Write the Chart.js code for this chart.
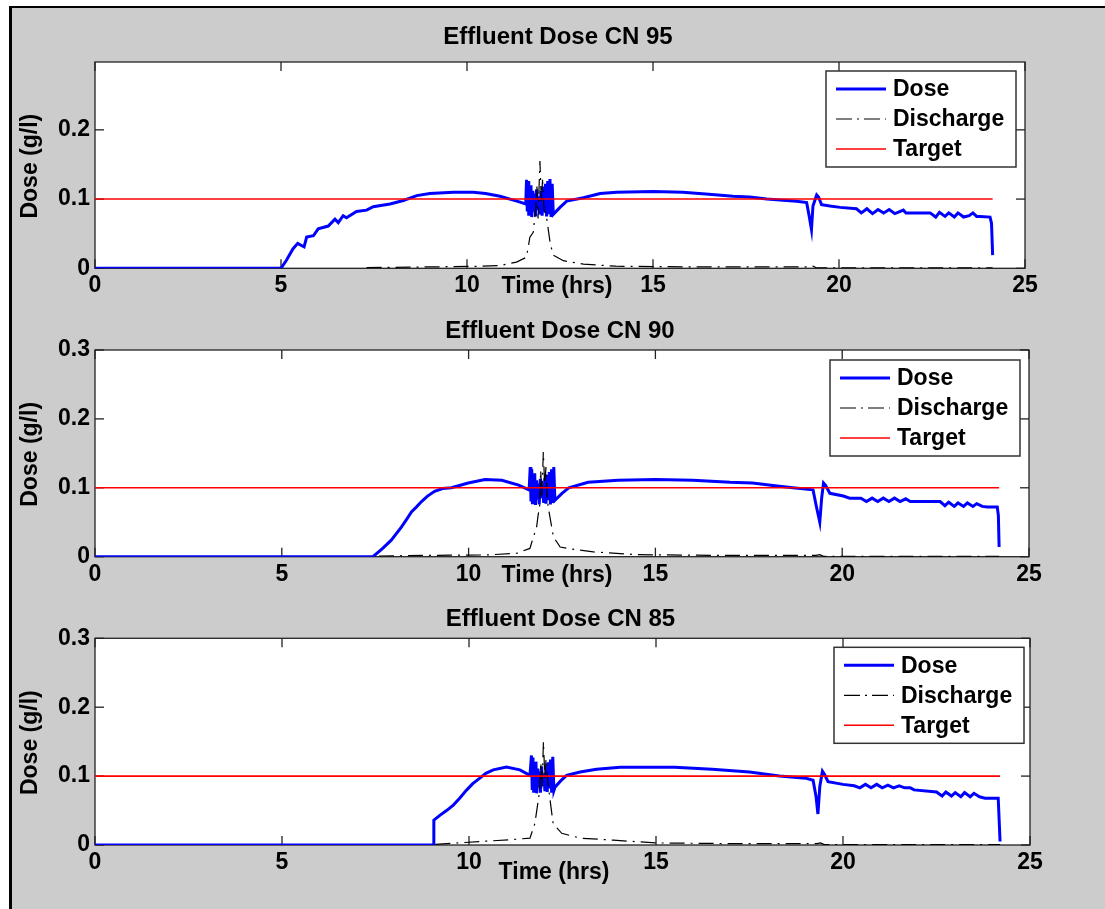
<!DOCTYPE html>
<html>
<head>
<meta charset="utf-8">
<title>Effluent Dose</title>
<script src="https://cdn.jsdelivr.net/npm/chart.js@4.4.0/dist/chart.umd.min.js"></script>
<style>
  body { margin: 0; background: #fff; width: 1105px; height: 909px; overflow: hidden; }
  #fig { position: absolute; left: 9px; top: 6px; width: 1096px; height: 903px; background: #cccccc;
         border-left: 3px solid #000; border-top: 2px solid #000; }
  canvas { position: absolute; left: 0; top: 0; }
</style>
</head>
<body>
<div id="fig"></div>
<canvas id="c95" width="1105" height="909"></canvas>
<canvas id="c90" width="1105" height="909"></canvas>
<canvas id="c85" width="1105" height="909"></canvas>
<script>
'use strict'

let xTicks = [0, 5, 10, 15, 20, 25];
let yTicksTop = [0, 0.1, 0.2];
let yTicks = [0, 0.1, 0.2, 0.3];
let legendLabels = ['Dose', 'Discharge', 'Target'];

// CN 95 : [time (hrs), dose (g/l)]
let dose95 = [
    [0, 0], [5.0, 0], [5.15, 0.012], [5.32, 0.028], [5.45, 0.036], [5.55, 0.033], [5.62, 0.031],
    [5.69, 0.045], [5.87, 0.047], [6.0, 0.057], [6.27, 0.061], [6.45, 0.071], [6.54, 0.066],
    [6.67, 0.076], [6.76, 0.073], [7.03, 0.082], [7.3, 0.084], [7.48, 0.089], [7.93, 0.093],
    [8.29, 0.098], [8.65, 0.105], [9.0, 0.108], [9.63, 0.110], [10.17, 0.110], [10.5, 0.108],
    [10.89, 0.104], [11.34, 0.097], [11.58, 0.093],
    [11.60, 0.128], [11.62, 0.082], [11.64, 0.126], [11.66, 0.076], [11.68, 0.117], [11.70, 0.080],
    [11.72, 0.120], [11.74, 0.074], [11.77, 0.112], [11.79, 0.082], [11.82, 0.108], [11.84, 0.075],
    [11.87, 0.114], [11.90, 0.084], [11.93, 0.104], [11.96, 0.078], [11.99, 0.112], [12.02, 0.076],
    [12.05, 0.118], [12.08, 0.081], [12.11, 0.122], [12.14, 0.075], [12.17, 0.126], [12.20, 0.078],
    [12.23, 0.129], [12.26, 0.074], [12.29, 0.122], [12.32, 0.078],
    [12.5, 0.088], [12.68, 0.097], [13.13, 0.102], [13.58, 0.108], [14.02, 0.110], [15.0, 0.111],
    [15.8, 0.110], [16.5, 0.107], [17.15, 0.104], [17.6, 0.103], [18.06, 0.100], [18.86, 0.097],
    [19.13, 0.095], [19.2, 0.075], [19.26, 0.056], [19.3, 0.090], [19.4, 0.106], [19.45, 0.103],
    [19.53, 0.092], [19.76, 0.090], [20.03, 0.088], [20.47, 0.086],
    [20.6, 0.080], [20.75, 0.086], [20.9, 0.079], [21.05, 0.085], [21.2, 0.080], [21.35, 0.085],
    [21.5, 0.079], [21.6, 0.081], [21.73, 0.084], [21.8, 0.080], [22.45, 0.080],
    [22.6, 0.074], [22.7, 0.081], [22.85, 0.075], [22.95, 0.080], [23.1, 0.074], [23.2, 0.080],
    [23.35, 0.074], [23.5, 0.076], [23.6, 0.080], [23.7, 0.075], [23.79, 0.075], [24.06, 0.074],
    [24.1, 0.065], [24.13, 0.019]
];
let disc95 = [
    [7.3, 0.001], [9.0, 0.002], [10.4, 0.003], [10.9, 0.004], [11.33, 0.009], [11.6, 0.016],
    [11.69, 0.045], [11.78, 0.052], [11.85, 0.088], [11.88, 0.118], [11.91, 0.072], [11.96, 0.155],
    [12.0, 0.095], [12.03, 0.128], [12.07, 0.085], [12.14, 0.073], [12.24, 0.035], [12.32, 0.019],
    [12.59, 0.011], [13.13, 0.006], [14.0, 0.003], [16.0, 0.002], [19.2, 0.002], [19.3, 0.003],
    [19.4, 0.0005], [24.13, 0.0005]
];
let target95 = [[0, 0.1], [24.13, 0.1]];

// CN 90
let dose90 = [
    [0, 0], [7.44, 0], [7.7, 0.012], [7.93, 0.024], [8.2, 0.043], [8.35, 0.055], [8.47, 0.065],
    [8.6, 0.072], [8.74, 0.080], [8.9, 0.088], [9.09, 0.095], [9.3, 0.099], [9.54, 0.100],
    [9.99, 0.107], [10.44, 0.112], [10.89, 0.111], [11.34, 0.104], [11.62, 0.097],
    [11.65, 0.130], [11.67, 0.080], [11.69, 0.127], [11.71, 0.076], [11.73, 0.118], [11.75, 0.082],
    [11.77, 0.121], [11.79, 0.075], [11.82, 0.111], [11.84, 0.083], [11.87, 0.106], [11.89, 0.076],
    [11.92, 0.113], [11.95, 0.085], [11.98, 0.103], [12.01, 0.078], [12.04, 0.114], [12.07, 0.077],
    [12.10, 0.119], [12.13, 0.082], [12.16, 0.123], [12.19, 0.076], [12.22, 0.127], [12.25, 0.078],
    [12.28, 0.130], [12.31, 0.082],
    [12.5, 0.092], [12.68, 0.100], [13.2, 0.108], [14.0, 0.111], [15.0, 0.112], [16.0, 0.111],
    [17.0, 0.108], [17.6, 0.107], [18.2, 0.103], [18.68, 0.100], [19.22, 0.097], [19.3, 0.075],
    [19.4, 0.050], [19.45, 0.085], [19.5, 0.107], [19.55, 0.104], [19.67, 0.092], [20.03, 0.088],
    [20.2, 0.085], [20.5, 0.085], [20.65, 0.080], [20.8, 0.085], [20.95, 0.080], [21.1, 0.085],
    [21.25, 0.080], [21.4, 0.085], [21.55, 0.080], [21.7, 0.084], [21.82, 0.080], [22.62, 0.080],
    [22.75, 0.074], [22.85, 0.079], [23.0, 0.073], [23.1, 0.078], [23.25, 0.073], [23.35, 0.078],
    [23.5, 0.073], [23.6, 0.077], [23.75, 0.073], [23.88, 0.072], [24.15, 0.072], [24.18, 0.060],
    [24.2, 0.014]
];
let disc90 = [
    [7.6, 0.001], [9.0, 0.002], [10.48, 0.0025], [11.29, 0.005], [11.64, 0.012], [11.82, 0.043],
    [11.86, 0.060], [11.9, 0.072], [11.93, 0.125], [11.96, 0.085], [12.0, 0.152], [12.04, 0.100],
    [12.07, 0.130], [12.1, 0.090], [12.13, 0.072], [12.27, 0.029], [12.45, 0.014], [12.9, 0.010],
    [13.34, 0.007], [14.5, 0.003], [16.5, 0.002], [19.3, 0.002], [19.4, 0.003], [19.5, 0.0005],
    [24.2, 0.0005]
];
let target90 = [[0, 0.1], [24.2, 0.1]];

// CN 85
let dose85 = [
    [0, 0], [9.05, 0], [9.06, 0.036], [9.22, 0.043], [9.4, 0.050], [9.58, 0.058], [9.75, 0.068],
    [9.94, 0.080], [10.1, 0.089], [10.29, 0.097], [10.45, 0.104], [10.65, 0.109], [11.0, 0.113],
    [11.36, 0.109], [11.63, 0.101],
    [11.67, 0.130], [11.69, 0.082], [11.71, 0.127], [11.73, 0.076], [11.75, 0.118], [11.77, 0.081],
    [11.79, 0.121], [11.81, 0.075], [11.84, 0.111], [11.86, 0.084], [11.89, 0.107], [11.91, 0.076],
    [11.94, 0.114], [11.97, 0.086], [12.0, 0.104], [12.03, 0.078], [12.06, 0.115], [12.09, 0.077],
    [12.12, 0.120], [12.15, 0.082], [12.18, 0.124], [12.21, 0.076], [12.24, 0.128], [12.27, 0.079],
    [12.30, 0.084],
    [12.45, 0.093], [12.61, 0.101], [12.97, 0.106], [13.41, 0.110], [14.04, 0.113], [15.5, 0.113],
    [16.5, 0.110], [17.5, 0.106], [18.3, 0.100], [19.0, 0.097], [19.2, 0.094], [19.28, 0.070],
    [19.33, 0.045], [19.38, 0.085], [19.45, 0.107], [19.5, 0.103], [19.6, 0.092], [20.0, 0.088],
    [20.3, 0.086], [20.45, 0.083], [20.6, 0.088], [20.75, 0.083], [20.9, 0.088], [21.05, 0.083],
    [21.2, 0.087], [21.35, 0.083], [21.5, 0.086], [21.65, 0.083], [21.8, 0.083], [21.9, 0.080],
    [22.5, 0.077], [22.65, 0.071], [22.75, 0.077], [22.9, 0.071], [23.0, 0.076], [23.15, 0.070],
    [23.25, 0.076], [23.4, 0.070], [23.5, 0.075], [23.65, 0.070], [23.8, 0.068], [24.15, 0.068],
    [24.2, 0.005]
];
let disc85 = [
    [9.1, 0.001], [10.29, 0.005], [11.18, 0.008], [11.63, 0.010], [11.76, 0.031], [11.88, 0.075],
    [11.92, 0.120], [11.95, 0.080], [11.99, 0.150], [12.03, 0.095], [12.06, 0.125], [12.12, 0.085],
    [12.25, 0.031], [12.48, 0.017], [12.97, 0.010], [13.86, 0.007], [15.0, 0.003], [17.0, 0.002],
    [19.3, 0.002], [19.4, 0.003], [19.5, 0.0005], [24.2, 0.0005]
];
let target85 = [[0, 0.1], [24.2, 0.1]];

const fontFamily = '"Liberation Sans", Arial, sans-serif';

function toXY(list) {
    return list.map(p => ({ x: p[0], y: p[1] }));
}

function strokeLine(ctx, x1, y1, x2, y2) {
    ctx.beginPath();
    ctx.moveTo(x1, y1);
    ctx.lineTo(x2, y2);
    ctx.stroke();
}

// matlab look: white axes box, inward ticks, title, labels and boxed legend
const matlabPlugin = {
    id: 'matlab',
    beforeDatasetsDraw(chart, args, opts) {
        let ctx = chart.ctx, a = chart.chartArea;
        let xs = chart.scales.x, ys = chart.scales.y;
        ctx.save();
        ctx.fillStyle = '#fff';
        ctx.fillRect(a.left, a.top, a.right - a.left, a.bottom - a.top);
        ctx.strokeStyle = '#222';
        ctx.lineWidth = 1.3;
        ctx.strokeRect(a.left, a.top, a.right - a.left, a.bottom - a.top);
        xs.ticks.forEach(t => {
            let px = xs.getPixelForValue(t.value);
            strokeLine(ctx, px, a.bottom, px, a.bottom - 9);
            strokeLine(ctx, px, a.top, px, a.top + 9);
        });
        ys.ticks.forEach(t => {
            let py = ys.getPixelForValue(t.value);
            strokeLine(ctx, a.left, py, a.left + 9, py);
            strokeLine(ctx, a.right, py, a.right - 9, py);
        });
        ctx.restore();
    },
    afterDraw(chart, args, opts) {
        let ctx = chart.ctx, a = chart.chartArea;
        ctx.save();
        ctx.fillStyle = '#000';
        ctx.textBaseline = 'middle';
        ctx.textAlign = 'center';
        ctx.font = 'bold 24px ' + fontFamily;
        ctx.fillText(opts.title, (a.left + a.right) / 2 - 2, opts.titleY);
        ctx.font = 'bold 23px ' + fontFamily;
        ctx.fillText('Time (hrs)', opts.xLabelX, opts.xLabelY);
        ctx.save();
        ctx.translate(31, (a.top + a.bottom) / 2 + 1);
        ctx.rotate(-Math.PI / 2);
        ctx.fillText('Dose (g/l)', 0, 0);
        ctx.restore();

        // legend box
        let w = 190, h = 96;
        let lx = a.right - opts.legendRight - w, ly = a.top + opts.legendTop;
        ctx.fillStyle = '#fff';
        ctx.fillRect(lx, ly, w, h);
        ctx.strokeStyle = '#333';
        ctx.lineWidth = 1.5;
        ctx.strokeRect(lx, ly, w, h);
        chart.data.datasets.forEach((ds, i) => {
            let y = ly + 18 + 30 * i;
            ctx.strokeStyle = ds.borderColor;
            ctx.lineWidth = ds.borderWidth;
            ctx.setLineDash(i === 1 ? [16, 5, 2, 5] : []);
            strokeLine(ctx, lx + 10, y, lx + 60, y);
            ctx.setLineDash([]);
            ctx.fillStyle = '#000';
            ctx.textAlign = 'left';
            ctx.fillText(ds.label, lx + 67, y + 1);
        });
        ctx.restore();
    }
};

function makeChart(id, p) {
    let font = { family: fontFamily, size: 23, weight: 'bold' };
    new Chart(document.getElementById(id), {
        type: 'line',
        data: {
            datasets: [
                { label: legendLabels[0], data: toXY(p.dose), borderColor: '#0000ff', borderWidth: 3,
                  pointRadius: 0, order: 2 },
                { label: legendLabels[1], data: toXY(p.disc), borderColor: '#000000', borderWidth: 1.2,
                  borderDash: [15, 6, 2, 6], pointRadius: 0, order: 1 },
                { label: legendLabels[2], data: toXY(p.target), borderColor: '#ff0000', borderWidth: 1.6,
                  pointRadius: 0, order: 0 }
            ]
        },
        options: {
            responsive: false,
            animation: false,
            events: [],
            layout: { padding: { left: 0, top: p.top, right: 1105 - p.right, bottom: 0 } },
            scales: {
                x: {
                    type: 'linear', min: 0, max: 25,
                    afterBuildTicks: s => { s.ticks = xTicks.map(v => ({ value: v })); },
                    afterFit: s => { s.height = 909 - p.bottom; },
                    grid: { display: false, drawTicks: false },
                    border: { display: false },
                    ticks: { padding: 4, maxRotation: 0, autoSkip: false, color: '#000', font: font }
                },
                y: {
                    min: 0, max: p.ymax,
                    afterBuildTicks: s => { s.ticks = p.yTicks.map(v => ({ value: v })); },
                    afterFit: s => { s.width = 95; },
                    grid: { display: false, drawTicks: false },
                    border: { display: false },
                    ticks: { padding: 5, color: '#000', font: font,
                             callback: v => v === 0 ? '0' : v.toFixed(1) }
                }
            },
            plugins: {
                legend: { display: false },
                tooltip: { enabled: false },
                matlab: {
                    title: p.title, titleY: p.titleY, xLabelX: p.xLabelX, xLabelY: p.xLabelY,
                    legendRight: p.legendRight, legendTop: p.legendTop
                }
            }
        },
        plugins: [matlabPlugin]
    });
}

window.onload = function () {
    makeChart('c95', { dose: dose95, disc: disc95, target: target95, ymax: 0.298, yTicks: yTicksTop,
        top: 62, bottom: 268.3, right: 1025, title: 'Effluent Dose CN 95', titleY: 37,
        xLabelX: 557, xLabelY: 287, legendRight: 9, legendTop: 9 });
    makeChart('c90', { dose: dose90, disc: disc90, target: target90, ymax: 0.3, yTicks: yTicks,
        top: 350, bottom: 556.7, right: 1029, title: 'Effluent Dose CN 90', titleY: 331,
        xLabelX: 557, xLabelY: 576, legendRight: 9, legendTop: 10 });
    makeChart('c85', { dose: dose85, disc: disc85, target: target85, ymax: 0.3, yTicks: yTicks,
        top: 638.3, bottom: 845, right: 1030, title: 'Effluent Dose CN 85', titleY: 619,
        xLabelX: 554, xLabelY: 873, legendRight: 6, legendTop: 9 });
};
</script>
</body>
</html>
